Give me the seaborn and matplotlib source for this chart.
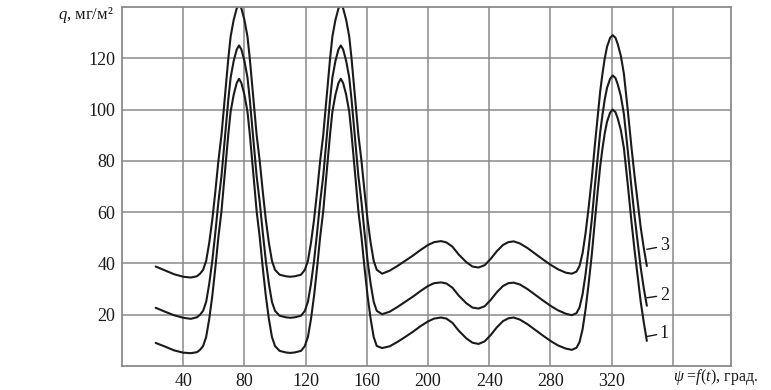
import matplotlib
matplotlib.use("Agg")
import matplotlib.pyplot as plt
import seaborn as sns
import pandas as pd

# ---- data ----
x_deg = [
    22, 28, 34, 40, 45, 49, 51, 53, 55, 57,
    59, 61, 63, 65, 66.5, 68, 69.5, 71, 73, 75,
    76.5, 78, 80, 82, 83.5, 85, 86.5, 88, 90, 92,
    94, 96, 98, 100, 103, 107, 110, 113, 117, 119.5,
    121.5, 123.5, 125.5, 127.5, 129.5, 131.5, 133, 134.5, 136, 137.5,
    139.5, 141.5, 143, 144.5, 146.5, 148.5, 150, 151.5, 153, 154.5,
    156.5, 158.5, 160.5, 162.5, 164.5, 166.5, 170, 175, 180, 185,
    190, 195, 200, 204, 208.5, 212, 216, 220, 225, 229,
    233, 237, 241, 245, 249, 252.5, 256, 260, 265, 270,
    275, 280, 285, 290, 294, 297, 299, 301, 303, 305,
    307, 309, 311, 312.5, 314, 315.5, 317, 319, 320.7, 322.5,
    324, 326, 328, 330.5, 333, 335, 337, 339, 341, 343,
]

q_curve3 = [
    38.8, 37.3, 35.8, 34.8, 34.5, 35.0, 36.0, 37.5, 41, 48,
    57, 68, 80, 90, 100, 110, 120, 128.5, 135, 139.5,
    141, 139.5, 135, 128.5, 120, 110, 100, 90, 80, 68,
    57, 48, 41, 37.5, 35.6, 35.0, 34.8, 35.0, 35.6, 37.5,
    41, 48, 57, 68, 80, 90, 100, 110, 120, 128.5,
    135, 139.5, 141, 139.5, 135, 128.5, 120, 110, 100, 90,
    80, 68, 57, 48, 41, 37.5, 36.0, 37.2, 39.0, 41.0,
    43.0, 45.2, 47.2, 48.3, 48.7, 48.2, 46.5, 43.5, 40.5, 38.8,
    38.4, 39.3, 41.8, 44.8, 47.2, 48.3, 48.6, 47.8, 46.0, 43.8,
    41.6, 39.5, 37.7, 36.4, 36.0, 36.8, 39.0, 44, 52, 62,
    73, 86, 98, 107, 114, 120, 124.5, 128, 129, 128,
    125.5, 121, 114, 100, 85, 74, 64, 54, 46, 39,
]

q_curve2 = [
    22.7, 21.2, 19.8, 18.8, 18.4, 19.0, 20.0, 21.5, 25, 32,
    41, 52, 64, 74, 84, 94, 104, 112.5, 119, 123.5,
    125, 123.5, 119, 112.5, 104, 94, 84, 74, 64, 52,
    41, 32, 25, 21.5, 19.6, 19.0, 18.8, 19.0, 19.6, 21.5,
    25, 32, 41, 52, 64, 74, 84, 94, 104, 112.5,
    119, 123.5, 125, 123.5, 119, 112.5, 104, 94, 84, 74,
    64, 52, 41, 32, 25, 21.5, 20.2, 21.2, 23.0, 25.0,
    27.0, 29.2, 31.2, 32.3, 32.6, 32.2, 30.5, 27.5, 24.5, 22.8,
    22.4, 23.3, 25.8, 28.8, 31.2, 32.3, 32.5, 31.8, 30.0, 27.8,
    25.6, 23.5, 21.7, 20.4, 19.8, 20.6, 22.8, 28, 36, 46,
    57, 70, 82, 91, 98, 104, 108.5, 112, 113.3, 112.3,
    109.8, 105.3, 98.3, 84.3, 69.3, 58.3, 48.3, 38.3, 30.3, 23.5,
]

q_curve1 = [
    9.0, 7.6, 6.1, 5.2, 5.0, 5.4, 6.3, 7.8, 11.3, 18.3,
    27.3, 38.3, 50.3, 60.3, 70.5, 80.5, 90.5, 99.2, 105.8, 110.4,
    112, 110.4, 105.8, 99.2, 90.5, 80.5, 70.5, 60.3, 50.3, 38.3,
    27.3, 18.3, 11.3, 7.8, 5.9, 5.3, 5.1, 5.3, 5.9, 7.8,
    11.3, 18.3, 27.3, 38.3, 50.3, 60.3, 70.5, 80.5, 90.5, 99.2,
    105.8, 110.4, 112, 110.4, 105.8, 99.2, 90.5, 80.5, 70.5, 60.3,
    50.3, 38.3, 27.3, 18.3, 11.3, 7.8, 7.0, 7.7, 9.4, 11.3,
    13.3, 15.5, 17.4, 18.5, 18.9, 18.5, 16.8, 13.8, 10.8, 9.1,
    8.6, 9.6, 12.1, 15.1, 17.5, 18.6, 18.9, 18.1, 16.3, 14.1,
    11.9, 9.8, 8.0, 6.8, 6.3, 7.1, 9.3, 14.3, 22.3, 32.3,
    43.3, 56.3, 68.8, 77.8, 84.8, 90.8, 95.3, 98.8, 100, 99.0,
    96.5, 92, 85, 71, 56, 45, 35, 25, 17, 9.8,
]

curve_names = ["1", "2", "3"]
x_ticks = [40, 80, 120, 160, 200, 240, 280, 320]
x_grid = [40, 80, 120, 160, 200, 240, 280, 320, 360]
y_ticks = [20, 40, 60, 80, 100, 120]

frames = []
for name, vals in zip(curve_names, [q_curve1, q_curve2, q_curve3]):
    frames.append(pd.DataFrame({"psi": x_deg, "q": vals, "curve": name}))
df = pd.concat(frames, ignore_index=True)

sns.set_theme(style="white")
plt.rcParams["font.family"] = ["Liberation Serif", "DejaVu Serif"]
plt.rcParams["mathtext.fontset"] = "custom"
plt.rcParams["mathtext.it"] = "Liberation Serif:italic"
plt.rcParams["mathtext.rm"] = "Liberation Serif"

fig = plt.figure(figsize=(7.71, 3.90), dpi=100)
ax = fig.add_axes([122 / 771, 24 / 390, (731 - 122) / 771, (383 - 24) / 390])

grid_color = "#8a8a8a"
for gx in x_grid:
    ax.axvline(gx, color=grid_color, lw=1.1, zorder=0)
for gy in y_ticks:
    ax.axhline(gy, color=grid_color, lw=1.1, zorder=0)

sns.lineplot(data=df, x="psi", y="q", units="curve", estimator=None, sort=False,
             color="#1a1a1a", lw=1.5, ax=ax, legend=False)

ax.set_xlim(0, 398)
ax.set_ylim(0, 140)
ax.set_xticks(x_ticks)
ax.set_yticks(y_ticks)
ax.set_xticklabels([str(t) for t in x_ticks])
ax.set_yticklabels([str(t) for t in y_ticks])
ax.tick_params(axis="both", length=0, labelsize=13, colors="#1a1a1a", pad=5)
ax.set_xlabel("")
ax.set_ylabel("")
for sp in ax.spines.values():
    sp.set_color(grid_color)
    sp.set_linewidth(1.3)
    sp.set_visible(True)

# axis titles
ax.text(-0.014, 137, r"$q$, мг/м²", transform=ax.get_yaxis_transform(),
        ha="right", va="center", fontsize=12, color="#1a1a1a")
ax.text(0.905, -0.042, r"$\psi$ =$f$($t$), град.", transform=ax.transAxes,
        ha="left", va="baseline", fontsize=11.5, color="#1a1a1a")

# curve number labels with leaders
for lbl, (x0, y0, x1, y1) in zip(["3", "2", "1"],
                                  [(343, 45.5, 351.5, 46.8),
                                   (343, 26.6, 351.5, 27.6),
                                   (343, 11.5, 351.5, 12.8)]):
    ax.annotate(lbl, xy=(x0, y0), xytext=(x1, y1), fontsize=13,
                ha="left", va="center", color="#1a1a1a",
                arrowprops=dict(arrowstyle="-", color="#1a1a1a", lw=1.0,
                                shrinkA=0, shrinkB=0))

fig.savefig("out.png", dpi=100)
